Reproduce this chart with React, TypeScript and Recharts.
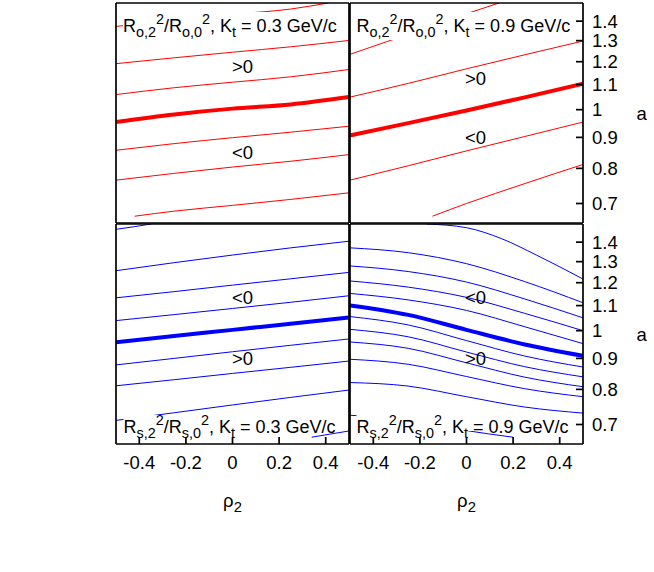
import React from "react";
import { LineChart, Line, XAxis, YAxis } from "recharts";

// rho_2 grid shared by most curves, axis ticks
const RHO = [-0.5, -0.25, 0, 0.25, 0.5];
const X_TICKS = [-0.4, -0.2, 0, 0.2, 0.4];
const A_TICKS = [0.7, 0.8, 0.9, 1, 1.1, 1.2, 1.3, 1.4];
const A_DOMAIN = [0.65, 1.5];

type Curve = { rho: number[]; a: number[]; bold?: boolean };

// R_o,2^2 / R_o,0^2, Kt = 0.3 GeV/c
const outLowKt: Curve[] = [
  { rho: [-0.5, -0.25, 0, 0.25, 0.41], a: [1.372, 1.405, 1.437, 1.466, 1.5] },
  { rho: RHO, a: [1.191, 1.218, 1.244, 1.27, 1.301] },
  { rho: RHO, a: [1.059, 1.087, 1.11, 1.133, 1.165] },
  { rho: RHO, a: [0.954, 0.982, 1.004, 1.02, 1.049], bold: true },
  { rho: RHO, a: [0.857, 0.879, 0.899, 0.918, 0.939] },
  { rho: RHO, a: [0.765, 0.785, 0.804, 0.822, 0.843] },
  { rho: [-0.42, -0.25, 0, 0.25, 0.5], a: [0.667, 0.68, 0.695, 0.711, 0.729] },
];

// R_o,2^2 / R_o,0^2, Kt = 0.9 GeV/c
const outHighKt: Curve[] = [
  { rho: [-0.5, -0.25, 0, 0.14], a: [1.234, 1.332, 1.44, 1.5] },
  { rho: RHO, a: [1.049, 1.105, 1.168, 1.232, 1.298] },
  { rho: RHO, a: [0.907, 0.95, 0.997, 1.048, 1.104], bold: true },
  { rho: RHO, a: [0.765, 0.808, 0.855, 0.903, 0.954] },
  { rho: [-0.146, 0, 0.25, 0.5], a: [0.667, 0.7, 0.755, 0.812] },
];

// R_s,2^2 / R_s,0^2, Kt = 0.3 GeV/c
const sideLowKt: Curve[] = [
  { rho: [-0.5, -0.42, -0.35], a: [1.47, 1.485, 1.5] },
  { rho: RHO, a: [1.256, 1.295, 1.333, 1.37, 1.405] },
  { rho: RHO, a: [1.133, 1.16, 1.189, 1.218, 1.248] },
  { rho: RHO, a: [1.039, 1.063, 1.088, 1.114, 1.142] },
  { rho: RHO, a: [0.957, 0.98, 1.003, 1.027, 1.051], bold: true },
  { rho: RHO, a: [0.878, 0.9, 0.923, 0.946, 0.969] },
  { rho: RHO, a: [0.811, 0.83, 0.85, 0.87, 0.891] },
  { rho: RHO, a: [0.711, 0.732, 0.754, 0.776, 0.798] },
  { rho: [0.34, 0.42, 0.5], a: [0.667, 0.675, 0.683] },
];

// R_s,2^2 / R_s,0^2, Kt = 0.9 GeV/c
const sideHighKt: Curve[] = [
  { rho: [-0.17, 0, 0.15, 0.3, 0.5], a: [1.5, 1.479, 1.419, 1.333, 1.217] },
  { rho: RHO, a: [1.37, 1.345, 1.29, 1.205, 1.112] },
  { rho: RHO, a: [1.279, 1.252, 1.203, 1.128, 1.05] },
  { rho: RHO, a: [1.208, 1.18, 1.135, 1.068, 1.0] },
  { rho: RHO, a: [1.152, 1.124, 1.08, 1.015, 0.952] },
  { rho: RHO, a: [1.101, 1.062, 1.003, 0.949, 0.909], bold: true },
  { rho: RHO, a: [1.055, 1.022, 0.963, 0.908, 0.871] },
  { rho: RHO, a: [1.005, 0.977, 0.922, 0.872, 0.839] },
  { rho: RHO, a: [0.958, 0.935, 0.885, 0.838, 0.808] },
  { rho: RHO, a: [0.897, 0.88, 0.84, 0.802, 0.778] },
  { rho: RHO, a: [0.821, 0.81, 0.778, 0.748, 0.731] },
  { rho: [-0.5, -0.25, 0, 0.2], a: [0.725, 0.712, 0.684, 0.667] },
];

const FONT = "'Liberation Sans', Arial, Helvetica, sans-serif";
const FS = 18.5;
const PW = 233;
const PH = 220;
const M = 5;
const RIGHT_W = 70;
const BOTTOM_H = 80;

const frame = { stroke: "#000", strokeWidth: 1.7 };
const tickText = { fill: "#000", fontSize: FS, fontFamily: FONT };

const RhoLabel = (props: any) => {
  const vb = props.viewBox || {};
  return (
    <text x={vb.x + vb.width / 2} y={vb.y + 63} textAnchor="middle" fontFamily={FONT} fontSize={FS} fill="#000">
      ρ<tspan dy={5} fontSize={14.8}>2</tspan>
    </text>
  );
};

interface PanelProps {
  curves: Curve[];
  color: string;
  left: number;
  top: number;
  xLabels?: boolean;
  yLabels?: boolean;
}

const Panel = ({ curves, color, left, top, xLabels, yLabels }: PanelProps) => {
  const width = M + PW + (yLabels ? RIGHT_W : M);
  const height = M + PH + (xLabels ? BOTTOM_H : M);
  return (
    <div style={{ position: "absolute", left: left - M, top: top - M }}>
      <LineChart
        width={width}
        height={height}
        margin={{ top: M, left: M, right: yLabels ? 0 : M, bottom: xLabels ? 0 : M }}
      >
        <XAxis
          xAxisId="b"
          type="number"
          dataKey="x"
          domain={[-0.5, 0.5]}
          ticks={X_TICKS}
          interval={0}
          allowDataOverflow
          orientation="bottom"
          mirror={!xLabels}
          height={xLabels ? BOTTOM_H : 30}
          tickSize={xLabels ? -7 : 7}
          tickMargin={xLabels ? 19 : 0}
          tick={xLabels ? tickText : false}
          axisLine={frame}
          tickLine={frame}
          label={xLabels ? { content: RhoLabel } : undefined}
        />
        <XAxis
          xAxisId="t"
          type="number"
          domain={[-0.5, 0.5]}
          ticks={X_TICKS}
          interval={0}
          allowDataOverflow
          orientation="top"
          mirror
          tickSize={7}
          tick={false}
          axisLine={frame}
          tickLine={frame}
        />
        <YAxis
          yAxisId="l"
          type="number"
          scale="log"
          domain={A_DOMAIN}
          ticks={A_TICKS}
          interval={0}
          allowDataOverflow
          orientation="left"
          mirror
          tickSize={7}
          tick={false}
          axisLine={frame}
          tickLine={frame}
        />
        <YAxis
          yAxisId="r"
          type="number"
          scale="log"
          domain={A_DOMAIN}
          ticks={A_TICKS}
          interval={0}
          allowDataOverflow
          orientation="right"
          mirror={!yLabels}
          width={yLabels ? RIGHT_W : 60}
          tickSize={yLabels ? -7 : 7}
          tickMargin={yLabels ? 16 : 0}
          tick={yLabels ? tickText : false}
          axisLine={frame}
          tickLine={frame}
          label={
            yLabels
              ? { value: "a", position: "insideLeft", offset: 53.5, fill: "#000", fontSize: FS, fontFamily: FONT }
              : undefined
          }
        />
        {curves.map((c, i) => (
          <Line
            key={i}
            xAxisId="b"
            yAxisId="l"
            data={c.rho.map((x, j) => ({ x, a: c.a[j] }))}
            dataKey="a"
            type="monotone"
            stroke={color}
            strokeWidth={c.bold ? 4 : 1}
            dot={false}
            activeDot={false}
            isAnimationActive={false}
          />
        ))}
      </LineChart>
    </div>
  );
};

// ratio title with sub- and superscripts, white box behind it
const Title = ({ x, y, k, kt }: { x: number; y: number; k: string; kt: string }) => (
  <g>
    <rect x={x} y={y < 100 ? y - 20 : y - 18} width={216} height={y < 100 ? 28 : 16} fill="#fff" />
    <text x={x} y={y} fontFamily={FONT} fontSize={18} fill="#000" style={{ whiteSpace: "pre" }}>
      R<tspan dy={4.5} fontSize={14.4}>{k},2</tspan>
      <tspan dy={-12.5} fontSize={14.4}>2</tspan>
      <tspan dy={8}>/R</tspan>
      <tspan dy={4.5} fontSize={14.4}>{k},0</tspan>
      <tspan dy={-12.5} fontSize={14.4}>2</tspan>
      <tspan dy={8}>, K</tspan>
      <tspan dy={4.5} fontSize={14.4}>t</tspan>
      <tspan dy={-4.5}>{` = ${kt} GeV/c`}</tspan>
    </text>
  </g>
);

const Sign = ({ x, y, s }: { x: number; y: number; s: string }) => (
  <text x={x} y={y} fontFamily={FONT} fontSize={FS} fill="#000">
    {s}
  </text>
);

export default function App() {
  return (
    <div style={{ position: "absolute", left: 0, top: 0, width: 654, height: 572, background: "#fff" }}>
      <Panel curves={outLowKt} color="#ff0000" left={116} top={3} />
      <Panel curves={outHighKt} color="#ff0000" left={350} top={3} yLabels />
      <Panel curves={sideLowKt} color="#0000ff" left={116} top={224} xLabels />
      <Panel curves={sideHighKt} color="#0000ff" left={350} top={224} xLabels yLabels />
      <svg width={654} height={572} style={{ position: "absolute", left: 0, top: 0, pointerEvents: "none" }}>
        <Title x={123} y={32} k="o" kt="0.3" />
        <Title x={356.5} y={32} k="o" kt="0.9" />
        <Title x={123.5} y={433} k="s" kt="0.3" />
        <Title x={356.5} y={433} k="s" kt="0.9" />
        <Sign x={232} y={72.5} s=">0" />
        <Sign x={232} y={159} s="<0" />
        <Sign x={465} y={84.5} s=">0" />
        <Sign x={465} y={144} s="<0" />
        <Sign x={232} y={304} s="<0" />
        <Sign x={232} y={364.5} s=">0" />
        <Sign x={465} y={304} s="<0" />
        <Sign x={465} y={365} s=">0" />
      </svg>
    </div>
  );
}
